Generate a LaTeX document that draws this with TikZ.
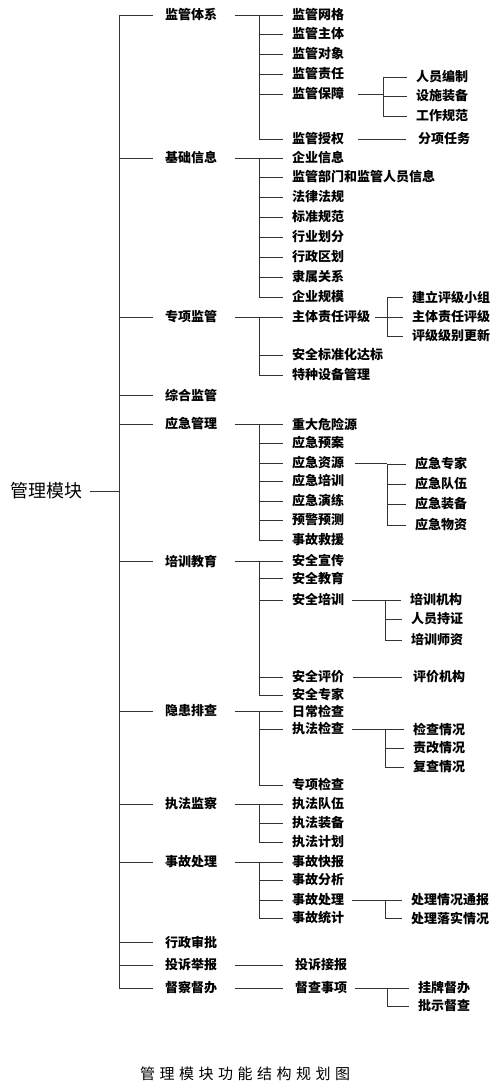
\documentclass[tikz,border=0pt]{standalone}
\usepackage{fontspec}
\setmainfont{Noto Sans CJK SC}
\usetikzlibrary{positioning}

\begin{document}
\begin{tikzpicture}[x=1pt, y=-1pt,
  item/.style={anchor=west, inner sep=0pt, font=\fontsize{13}{13}\selectfont\bfseries},
  rootbox/.style={anchor=west, inner sep=0pt, font=\fontsize{18}{18}\selectfont},
  titlebox/.style={inner sep=0pt, font=\fontsize{15}{15}\selectfont\addfontfeature{LetterSpace=30}},
  link/.style={line width=0.9pt, black!80}]
  \useasboundingbox (0,0) rectangle (500,1091);
  % root and level 1
  \node[rootbox] (gl) at (10,491) {管理模块};
  \foreach \n/\y/\t in {jgtx/15/监管体系, jcxx/158/基础信息, zxjg/317/专项监管,
      zhjg/395/综合监管, yjgl/424/应急管理, pxjy/561/培训教育, yhpc/711/隐患排查,
      zfjc/804/执法监察, sgcl/862/事故处理, xzsp/942/行政审批, tsjb/965/投诉举报,
      dcdb/988/督察督办}
    \node[item] (\n) at (165,\y) {\t};
  % level 2
  \foreach \n/\y/\t in {wg/15/监管网格, zt/34/监管主体, dx/54/监管对象, zr/74/监管责任,
      bz/94/监管保障, sq/139/监管授权,
      qyxx/158/企业信息, bmxx/177/监管部门和监管人员信息, flfg/197/法律法规,
      bzgf/217/标准规范, hyhf/237/行业划分, xzqh/257/行政区划, lsgx/277/隶属关系,
      qygm/297/企业规模,
      ztpj/317/主体责任评级, bzh/355/安全标准化达标, tzsb/375/特种设备管理,
      wxy/424/重大危险源, yjya/443/应急预案, yjzy/463/应急资源, yjpx/481/应急培训,
      yjyl/501/应急演练, yjyc/520/预警预测, sgjy/540/事故救援,
      aqxc/561/安全宣传, aqjy/578/安全教育, aqpx/600/安全培训, aqpj/677/安全评价,
      aqzj/695/安全专家,
      rcjc/711/日常检查, zfjcb/729/执法检查, zxjc/785/专项检查,
      zfdw/804/执法队伍, zfzb/823/执法装备, zfjh/842/执法计划,
      sgkb/862/事故快报, sgfx/880/事故分析, sgclb/900/事故处理, sgtj/918/事故统计}
    \node[item] (\n) at (292,\y) {\t};
  \node[item] (tsjs) at (295,965) {投诉接报};
  \node[item] (dcsx) at (295,988) {督查事项};
  % level 3
  \foreach \n/\x/\y/\t in {rybz/416/77/人员编制, sszb/416/96/设施装备, gzgf/416/116/工作规范,
      fxrw/418/139/分项任务,
      pjxz/412/297/建立评级小组, ztpjc/412/317/主体责任评级, pjgx/412/336/评级级别更新,
      yjzj/415/464/应急专家, yjdw/415/484/应急队伍, yjzb/415/504/应急装备, yjwz/415/525/应急物资,
      pxjg/410/600/培训机构, rycz/411/619/人员持证, pxsz/411/640/培训师资,
      pjjg/413/677/评价机构,
      jcqk/413/729/检查情况, zgqk/413/748/责改情况, fcqk/413/767/复查情况,
      tbqk/411/900/处理情况通报, lsqk/411/918/处理落实情况,
      gpdb/418/988/挂牌督办, pscc/418/1006/批示督查}
    \node[item] (\n) at (\x,\y) {\t};
  % caption
  \node[titlebox] (title) at (245,1074) {管理模块功能结构规划图};

  % bus columns
  \coordinate (trunk) at (119,0);
  \coordinate (busb) at (259,0);
  % root to level 1
  \draw[link] ([xshift=8]gl.east) -- (trunk |- gl.east);
  \draw[link] (trunk |- jgtx.west) -- (trunk |- dcdb.west);
  \foreach \n in {jgtx, jcxx, zxjg, zhjg, yjgl, pxjy, yhpc, zfjc, sgcl, xzsp, tsjb, dcdb}
    \draw[link] (trunk |- \n.west) -- ([xshift=-12]\n.west);
  % level 1 to level 2
  \foreach \p/\a/\b/\kids in {jgtx/wg/sq/{wg,zt,dx,zr,bz,sq},
      jcxx/qyxx/qygm/{qyxx,bmxx,flfg,bzgf,hyhf,xzqh,lsgx,qygm},
      zxjg/ztpj/tzsb/{ztpj,bzh,tzsb},
      yjgl/wxy/sgjy/{wxy,yjya,yjzy,yjpx,yjyl,yjyc,sgjy},
      pxjy/aqxc/aqzj/{aqxc,aqjy,aqpx,aqpj,aqzj},
      yhpc/rcjc/zxjc/{rcjc,zfjcb,zxjc},
      zfjc/zfdw/zfjh/{zfdw,zfzb,zfjh},
      sgcl/sgkb/sgtj/{sgkb,sgfx,sgclb,sgtj}}{
    \draw[link] ([xshift=18]\p.east) -- (busb |- \p.east);
    \draw[link] (busb |- \a.west) -- (busb |- \b.west);
    \foreach \k in \kids
      \draw[link] (busb |- \k.west) -- ([xshift=-9]\k.west);
  }
  \draw[link] ([xshift=18]tsjb.east) -- ([xshift=-12]tsjs.west);
  \draw[link] ([xshift=18]dcdb.east) -- ([xshift=-12]dcsx.west);
  % level 2 to level 3
  \foreach \p/\g/\bx/\a/\b/\kids in {bz/14/383/rybz/gzgf/{rybz,sszb,gzgf},
      ztpj/5/387/pjxz/pjgx/{pjxz,ztpjc,pjgx},
      yjzy/11/387/yjzj/yjwz/{yjzj,yjdw,yjzb,yjwz},
      aqpx/8/385/pxjg/pxsz/{pxjg,rycz,pxsz},
      zfjcb/8/385/jcqk/fcqk/{jcqk,zgqk,fcqk},
      sgclb/8/385/tbqk/lsqk/{tbqk,lsqk},
      dcsx/8/387/gpdb/pscc/{gpdb,pscc}}{
    \coordinate (bx) at (\bx,0);
    \draw[link] ([xshift=\g]\p.east) -- (bx |- \p.east);
    \draw[link] (bx |- \a.west) -- (bx |- \b.west);
    \foreach \k in \kids
      \draw[link] (bx |- \k.west) -- ([xshift=-9]\k.west);
  }
  \draw[link] ([xshift=14]sq.east) -- ([xshift=-12]fxrw.west);
  \draw[link] ([xshift=9]aqpj.east) -- ([xshift=-11]pjjg.west);
\end{tikzpicture}
\end{document}
